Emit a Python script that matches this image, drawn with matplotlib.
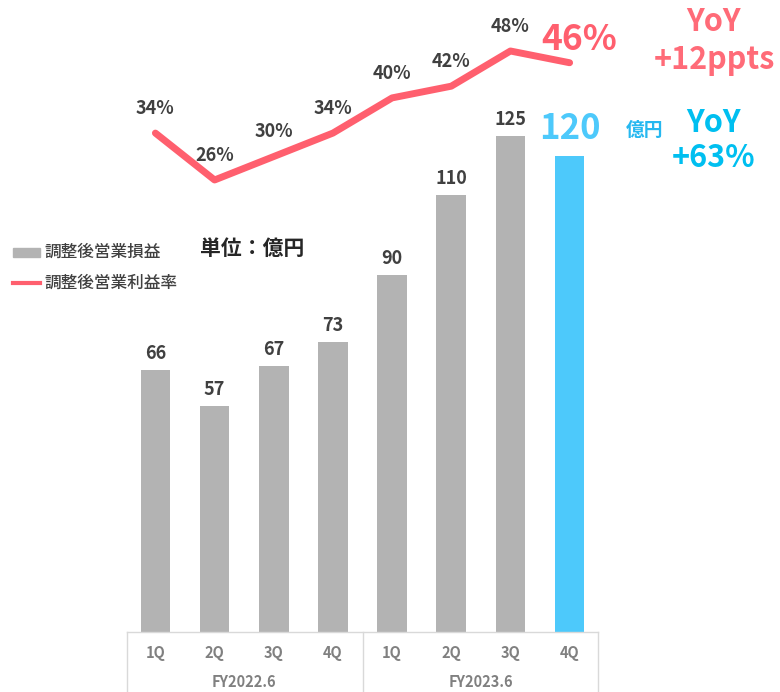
import matplotlib
matplotlib.use("Agg")
import matplotlib.pyplot as plt
from matplotlib.patches import Rectangle
from matplotlib.lines import Line2D

plt.rcParams['font.family'] = ['Noto Sans CJK JP', 'DejaVu Sans']

quarters = ["1Q", "2Q", "3Q", "4Q", "1Q", "2Q", "3Q", "4Q"]
fiscal_years = ["FY2022.6", "FY2023.6"]
op_profit = [66, 57, 67, 73, 90, 110, 125, 120]
margin = [34, 26, 30, 34, 40, 42, 48, 46]
legend_labels = ["調整後営業損益", "調整後営業利益率"]

GRAY = "#b3b3b3"
BLUE = "#4dc9fb"
RED = "#ff5f6e"
DARK = "#404040"
TICK = "#808080"

W, H = 780, 692
fig = plt.figure(figsize=(W / 100, H / 100), dpi=100)
ax = fig.add_axes([127 / W, 60 / H, (598 - 127) / W, 632 / H])
ax2 = ax.twinx()

x = list(range(len(op_profit)))
colors = [GRAY] * (len(op_profit) - 1) + [BLUE]
bars = ax.bar(x, op_profit, width=0.5, color=colors, zorder=2)
ax.set_xlim(-0.48, 7.48)
ax.set_ylim(0, 159.2)
ax.axis('off')

for i, v in enumerate(op_profit[:-1]):
    ax.annotate(str(v), (i, v), xytext=(0, 5), textcoords='offset points',
                ha='center', va='bottom', fontsize=13, fontweight='bold', color=DARK)
ax.annotate(str(op_profit[-1]), (7, op_profit[-1]), xytext=(0, 7), textcoords='offset points',
            ha='center', va='bottom', fontsize=25, fontweight='bold', color=BLUE)

ax2.plot(x, margin, color=RED, lw=5, solid_capstyle='round', solid_joinstyle='round', zorder=3)
ax2.set_ylim(-51.1, 56.7)
ax2.axis('off')
for i, v in enumerate(margin[:-1]):
    ax2.annotate(f"{v}%", (i, v), xytext=(0, 11), textcoords='offset points',
                 ha='center', va='bottom', fontsize=13, fontweight='bold', color=DARK)
ax2.annotate(f"{margin[-1]}%", (7, margin[-1]), xytext=(7, 4), textcoords='offset points',
             ha='center', va='bottom', fontsize=25.5, fontweight='bold', color=RED)

# category table under the axis
lc = "#d9d9d9"
tr = ax.get_xaxis_transform()
for xx in [-0.48, 3.5, 7.48]:
    ax.add_line(Line2D([xx, xx], [0, -60 / 632], transform=tr, color=lc, lw=1, clip_on=False))
ax.add_line(Line2D([-0.48, 7.48], [0, 0], transform=tr, color=lc, lw=1, clip_on=False))
for i, q in enumerate(quarters):
    ax.text(i, -21 / 632, q, transform=tr, ha='center', va='center', fontsize=10.5,
            fontweight='bold', color=TICK)
for j, fy in enumerate(fiscal_years):
    ax.text(1.5 + 4 * j, -50 / 632, fy, transform=tr, ha='center', va='center', fontsize=10.5,
            fontweight='bold', color=TICK)

# legend
fig.patches.append(Rectangle((13 / W, 1 - 257 / H), 27 / W, 9 / H, transform=fig.transFigure,
                             color=GRAY, figure=fig))
fig.text(44 / W, 1 - 252 / H, legend_labels[0], ha='left', va='center', fontsize=12,
         fontweight='medium', color=DARK)
fig.lines.append(Line2D([13 / W, 40 / W], [1 - 283 / H, 1 - 283 / H], transform=fig.transFigure,
                        color=RED, lw=3, figure=fig))
fig.text(44 / W, 1 - 283 / H, legend_labels[1], ha='left', va='center', fontsize=12,
         fontweight='medium', color=DARK)
fig.text(200 / W, 1 - 248 / H, "単位：億円", ha='left', va='center', fontsize=15,
         fontweight='bold', color="#262626")

# annotations on the right
fig.text(645 / W, 1 - 130 / H, "億円", ha='center', va='center', fontsize=13.5,
         fontweight='bold', color="#26b8f0")
fig.text(714 / W, 1 - 22 / H, "YoY", ha='center', va='center', fontsize=22,
         fontweight='bold', color="#ff6b78")
fig.text(714 / W, 1 - 60 / H, "+12ppts", ha='center', va='center', fontsize=22,
         fontweight='bold', color="#ff6b78")
fig.text(714 / W, 1 - 123 / H, "YoY", ha='center', va='center', fontsize=22,
         fontweight='bold', color="#00bff0")
fig.text(714 / W, 1 - 158 / H, "+63%", ha='center', va='center', fontsize=22,
         fontweight='bold', color="#00bff0")

fig.savefig("out.png", dpi=100, facecolor='white')
